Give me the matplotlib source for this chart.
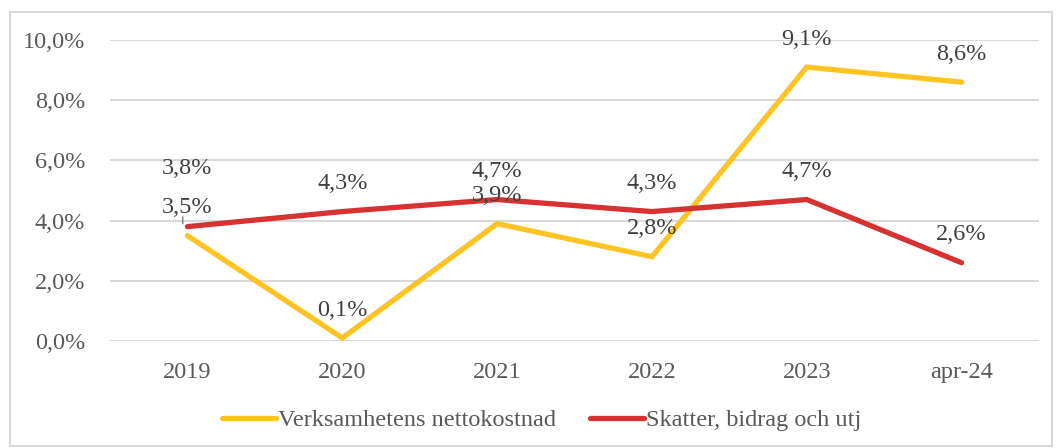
import matplotlib
matplotlib.use("Agg")
import matplotlib.pyplot as plt
from matplotlib.patches import Rectangle

plt.rcParams['font.family'] = ['Liberation Serif', 'DejaVu Serif']
plt.rcParams['font.size'] = 17.5

categories = ['2019', '2020', '2021', '2022', '2023', 'apr-24']
verksamhet = [3.5, 0.1, 3.9, 2.8, 9.1, 8.6]
skatter = [3.8, 4.3, 4.7, 4.3, 4.7, 2.6]
yticks = [0, 2, 4, 6, 8, 10]

yellow = '#FFC324'
red = '#D73232'
txt = '#595959'

fig = plt.figure(figsize=(10.56, 4.48), dpi=100)
fig.patches.append(Rectangle((10 / 1056, 2 / 448), 1042 / 1056, 434 / 448,
                             transform=fig.transFigure, fill=False,
                             edgecolor='#D9D9D9', linewidth=1.5))
ax = fig.add_axes([110 / 1056, 107 / 448, 929 / 1056, 301 / 448])

x = list(range(len(categories)))
ax.plot(x, verksamhet, color=yellow, lw=3.8, solid_capstyle='round',
        solid_joinstyle='miter', label='Verksamhetens nettokostnad', zorder=3)
ax.plot(x, skatter, color=red, lw=3.8, solid_capstyle='round',
        solid_joinstyle='miter', label='Skatter, bidrag och utj', zorder=3)

def fmt(v):
    return f"{v:.1f}%".replace('.', ',')

for i, v in enumerate(verksamhet):
    ax.annotate(fmt(v), (i, v), xytext=(0, 20), textcoords='offset points',
                ha='center', va='center', color='#404040')
for i, v in enumerate(skatter):
    dy = 42 if i == 0 else 20
    ax.annotate(fmt(v), (i, v), xytext=(0, dy), textcoords='offset points',
                ha='center', va='center', color='#404040')
# leader line for the moved label
ax.annotate('', (-0.03, skatter[0]), xytext=(0, 9), textcoords='offset points',
            arrowprops=dict(arrowstyle='-', color='#808080', lw=1))

ax.set_xlim(-0.5, len(categories) - 0.5)
ax.set_ylim(0, 10)
ax.set_yticks(yticks)
ax.set_yticklabels([f"{t},0%" for t in yticks])
ax.set_xticks(x)
ax.set_xticklabels(categories)
ax.tick_params(axis='both', length=0, colors=txt)
ax.tick_params(axis='x', pad=15)
ax.tick_params(axis='y', pad=18)
ax.grid(axis='y', color='#D9D9D9', lw=1.5)
ax.set_axisbelow(True)
for s in ax.spines.values():
    s.set_visible(False)

fig.legend(loc='center', bbox_to_anchor=(542 / 1056, 1 - 420 / 448), ncol=2,
           frameon=False, handlelength=2.2, handletextpad=0.1, columnspacing=1.4,
           labelcolor=txt)

fig.savefig('out.png', dpi=100)
